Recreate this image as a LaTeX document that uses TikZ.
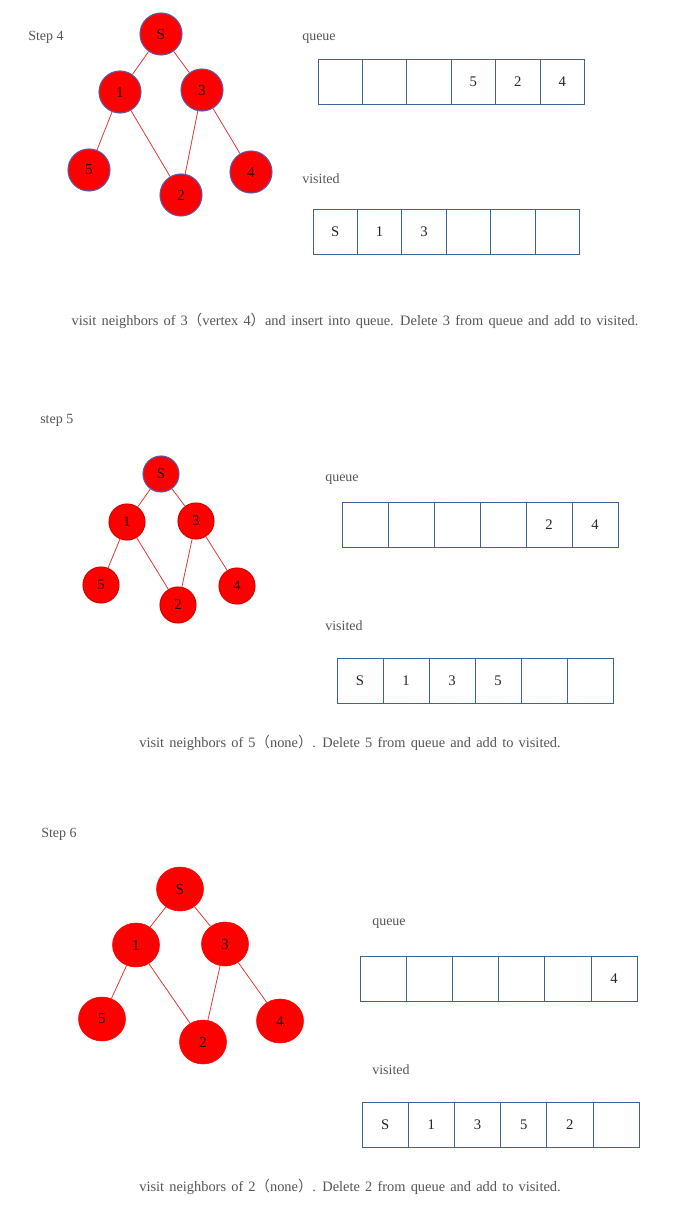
\documentclass[tikz,border=0pt]{standalone}
\usepackage{fontspec}
\usetikzlibrary{shapes.geometric}
\setmainfont{Liberation Serif}
\newfontfamily\cjk{Noto Sans CJK SC}
\definecolor{boxblue}{HTML}{3D6594}
\definecolor{ringblue}{HTML}{5A5AA8}
\definecolor{txtgray}{HTML}{555555}
\definecolor{edgered}{HTML}{E03A3A}
\definecolor{nodered}{HTML}{FF0000}
\definecolor{lbl}{HTML}{2A0000}
\newcommand{\cellrow}[5]{%
  \foreach \t [count=\i] in {#5} {
    \node[cellbox, minimum width=#4*0.75pt] (#1\i) at ({#2+(\i-0.5)*#4},#3) {\t};
  }%
}
\newcommand{\widesp}{\spaceskip=0.36em plus 0.1em\relax}
\begin{document}
\begin{tikzpicture}[x=0.75pt,y=-0.75pt,
  cellbox/.style={draw=boxblue, line width=0.75pt, minimum height=45*0.75pt, inner sep=0pt, font=\fontsize{11}{13}\selectfont, text=black!85},
  gnode/.style={circle, fill=nodered, inner sep=0pt, line width=0.8pt, font=\fontsize{11.5}{13}\selectfont, text=lbl},
  ring4/.style={gnode, draw=ringblue, minimum size=42*0.75pt},
  ring5/.style={gnode, draw=red!85!black, minimum size=36*0.75pt, font=\fontsize{11}{13}\selectfont},
  ring6/.style={ellipse, fill=nodered, draw=nodered, inner sep=0pt, minimum width=47*0.75pt, minimum height=44*0.75pt, font=\fontsize{11.5}{13}\selectfont, text=lbl},
  gedge/.style={draw=edgered, line width=0.6pt},
  lab/.style={anchor=base west, text=txtgray, font=\fontsize{10.5}{12}\selectfont, inner sep=0pt},
  captext/.style={anchor=base, text=txtgray, font=\fontsize{10.8}{12}\selectfont\widesp, inner sep=0pt}
]
\fill[white] (0,0) rectangle (676,1224);
\useasboundingbox (0,0) rectangle (676,1224);

% ---------- Step 4 ----------
\node[lab] (t4) at (28,40) {Step 4};
\node[ring4] (a0) at (161,34) {S};
\node[ring4] (a1) at (120,92) {1};
\node[ring4] (a3) at (202,90) {3};
\node[ring4] (a5) at (89,170) {5};
\node[ring4] (a2) at (181,195) {2};
\node[ring4] (a4) at (251,172) {4};
\draw[gedge] (a0) -- (a1);
\draw[gedge] (a0) -- (a3);
\draw[gedge] (a1) -- (a5);
\draw[gedge] (a1) -- (a2);
\draw[gedge] (a3) -- (a2);
\draw[gedge] (a3) -- (a4);
\node[lab] (q4l) at (302,40) {queue};
\cellrow{qa}{318}{82}{44.4}{{},{},{},5,2,4}
\node[lab] (v4l) at (302,183) {visited};
\cellrow{va}{313}{231.5}{44.4}{S,1,3,{},{},{}}
\node[captext] (c4) at (355,325) {visit neighbors of 3{\cjk （}vertex 4{\cjk ）}and insert into queue. Delete 3 from queue and add to visited.};

% ---------- Step 5 ----------
\node[lab] (t5) at (40,423) {step 5};
\node[ring5, draw=ringblue] (b0) at (161,474) {S};
\node[ring5] (b1) at (127,522) {1};
\node[ring5] (b3) at (196,521) {3};
\node[ring5] (b5) at (101,585) {5};
\node[ring5] (b2) at (178,605) {2};
\node[ring5] (b4) at (237,586) {4};
\draw[gedge] (b0) -- (b1);
\draw[gedge] (b0) -- (b3);
\draw[gedge] (b1) -- (b5);
\draw[gedge] (b1) -- (b2);
\draw[gedge] (b3) -- (b2);
\draw[gedge] (b3) -- (b4);
\node[lab] (q5l) at (325,481) {queue};
\cellrow{qb}{342}{525}{46}{{},{},{},{},2,4}
\node[lab] (v5l) at (325,630) {visited};
\cellrow{vb}{337}{681}{46}{S,1,3,5,{},{}}
\node[captext] (c5) at (350,747) {visit neighbors of 5{\cjk （}none{\cjk ）}. Delete 5 from queue and add to visited.};

% ---------- Step 6 ----------
\node[lab] (t6) at (41,837) {Step 6};
\node[ring6] (c0) at (180,889) {S};
\node[ring6] (c1) at (136,945) {1};
\node[ring6] (c3) at (225,944) {3};
\node[ring6] (c5n) at (102,1019) {5};
\node[ring6] (c2) at (203,1042) {2};
\node[ring6] (c4n) at (280,1021) {4};
\draw[gedge] (c0) -- (c1);
\draw[gedge] (c0) -- (c3);
\draw[gedge] (c1) -- (c5n);
\draw[gedge] (c1) -- (c2);
\draw[gedge] (c3) -- (c2);
\draw[gedge] (c3) -- (c4n);
\node[lab] (q6l) at (372,925) {queue};
\cellrow{qc}{360}{979}{46.2}{{},{},{},{},{},4}
\node[lab] (v6l) at (372,1074) {visited};
\cellrow{vc}{362}{1125}{46.2}{S,1,3,5,2,{}}
\node[captext] (c6) at (350,1191) {visit neighbors of 2{\cjk （}none{\cjk ）}. Delete 2 from queue and add to visited.};
\end{tikzpicture}
\end{document}
